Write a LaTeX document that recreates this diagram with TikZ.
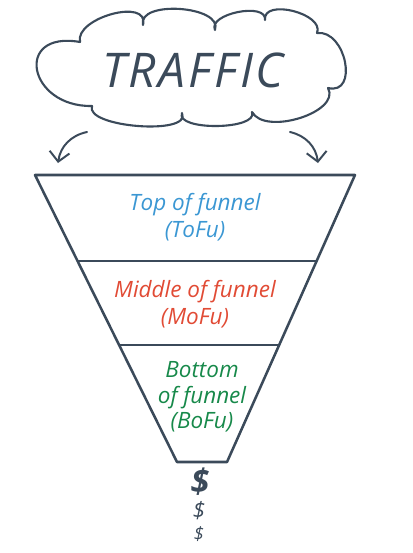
\documentclass[tikz,border=0pt]{standalone}
\usepackage{fontspec}
\setmainfont{Open Sans}
\usetikzlibrary{arrows.meta,calc}

\definecolor{ink}{HTML}{3B4A5A}
\definecolor{tofu}{HTML}{3B97D3}
\definecolor{mofu}{HTML}{E14B35}
\definecolor{bofu}{HTML}{17894A}

\tikzset{
	hand/.style={font=\itshape\fontsize{16}{19}\selectfont, align=center, inner sep=0pt},
	flow/.style={ink, line width=1.4pt, -{Straight Barb[length=2.4mm, width=5mm, line width=1.4pt]}},
	rim/.style={ink, line width=1.8pt},
	cash/.style={ink, inner sep=0pt},
}

\begin{document}
\begin{tikzpicture}[x=0.025cm, y=0.025cm, line join=round, line cap=round]
	\useasboundingbox (0,0) rectangle (413,-553);
	
	% cloud
	\coordinate (j1) at (80,-42);
	\coordinate (j2) at (143,-25);
	\coordinate (j3) at (215,-30);
	\coordinate (j4) at (265,-20);
	\coordinate (j5) at (317,-33);
	\coordinate (j6) at (328,-88);
	\coordinate (j7) at (252,-112);
	\coordinate (j8) at (182,-113);
	\coordinate (j9) at (92,-106);
	\draw[ink, line width=1.5pt] (j9)
		.. controls (27.9,-107.1) and (13.5,-30.3) .. (j1)
		.. controls (74.4,-17.7) and (150,2.7) .. (j2)
		.. controls (137.1,0.2) and (223.5,-5.8) .. (j3)
		.. controls (207.3,-13.7) and (267.3,-1.7) .. (j4)
		.. controls (262.5,2) and (324.9,-13.6) .. (j5)
		.. controls (345.9,-29.5) and (359.1,-95.5) .. (j6)
		.. controls (341.3,-112) and (265.3,-136) .. (j7)
		.. controls (259,-130) and (175,-131) .. (j8)
		.. controls (192.3,-135.7) and (84.3,-127.3) .. (j9) -- cycle;
	\node[ink, font=\itshape\fontsize{34}{40}\selectfont\addfontfeatures{LetterSpace=6}] (traffic) at (193,-70) {TRAFFIC};
	
	\coordinate (l0) at (87,-132);
	\coordinate (l1) at (58,-163);
	\coordinate (r0) at (290,-132);
	\coordinate (r1) at (318,-163);
	\draw[flow] (l0) to[bend right=35] (l1);
	\draw[flow] (r0) to[bend left=35] (r1);
	
	% funnel
	\coordinate (a) at (35,-175);
	\coordinate (b) at (355,-175);
	\coordinate (c) at (227,-462);
	\coordinate (d) at (177,-462);
	\coordinate (e) at ($(a)!0.3!(d)$);
	\coordinate (f) at ($(b)!0.3!(c)$);
	\coordinate (g) at ($(a)!0.5923!(d)$);
	\coordinate (h) at ($(b)!0.5923!(c)$);
	\draw[rim] (a) -- (b) -- (c) -- (d) -- cycle;
	\draw[rim] (e) -- (f);
	\draw[rim] (g) -- (h);
	
	\node[hand, tofu] (top) at (195,-217.5) {Top of funnel\\(ToFu)};
	\node[hand, mofu] (mid) at (195,-304) {Middle of funnel\\(MoFu)};
	\node[hand, bofu, font=\itshape\fontsize{16}{18}\selectfont] (bot) at (202,-397) {Bottom\\of funnel\\(BoFu)};
	
	\node[cash, font=\itshape\bfseries\fontsize{24}{24}\selectfont] (d1) at (200,-482) {\$};
	\node[cash, font=\itshape\fontsize{16}{16}\selectfont] (d2) at (199,-511) {\$};
	\node[cash, font=\itshape\fontsize{13}{13}\selectfont] (d3) at (199,-534) {\$};
	
\end{tikzpicture}
\end{document}
